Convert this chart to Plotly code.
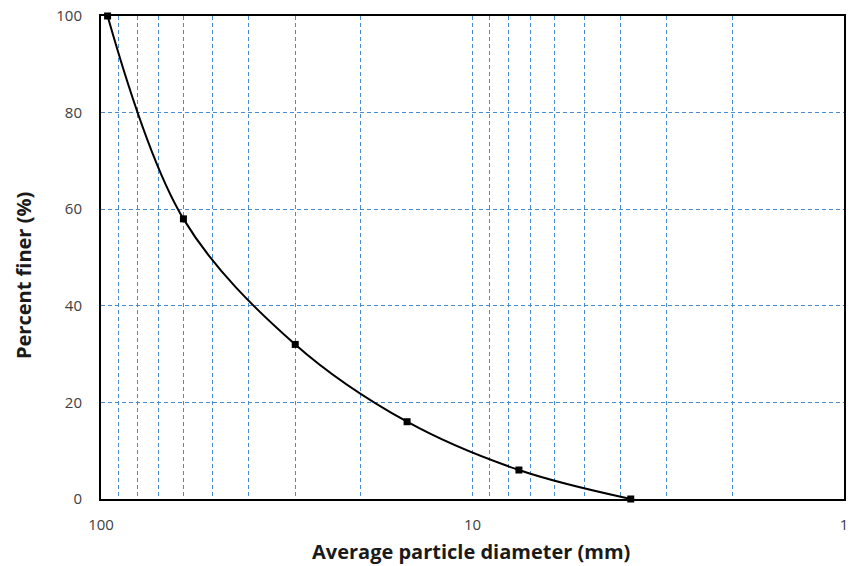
import plotly.graph_objects as go

# Grain size distribution: particle diameter (mm) vs cumulative percent finer
diameter_mm = [96, 60, 30, 15, 7.5, 3.75]
percent_finer = [100, 58, 32, 16, 6, 0]

x_tick_vals = [1, 2, 3, 4, 5, 6, 7, 8, 9, 10, 20, 30, 40, 50, 60, 70, 80, 90, 100]
x_tick_text = ["1", "", "", "", "", "", "", "", "", "10",
               "", "", "", "", "", "", "", "", "100"]
y_tick_vals = [0, 20, 40, 60, 80, 100]

FONT = "Open Sans"
GRID = "#4a8bd0"

fig = go.Figure()
fig.add_trace(go.Scatter(
    x=diameter_mm,
    y=percent_finer,
    mode="lines+markers",
    line=dict(color="black", width=2, shape="spline", smoothing=1.0),
    marker=dict(symbol="square", size=7, color="black"),
    showlegend=False,
    cliponaxis=False,
))

fig.update_layout(
    width=856,
    height=566,
    margin=dict(l=101, r=12, t=16, b=67, autoexpand=False),
    paper_bgcolor="white",
    plot_bgcolor="white",
    font=dict(family=FONT, size=15, color="#404040"),
    xaxis=dict(
        type="log",
        range=[2, 0],
        tickvals=x_tick_vals,
        ticktext=x_tick_text,
        showgrid=True,
        gridcolor=GRID,
        griddash="4px,3px",
        gridwidth=1,
        showline=True,
        linecolor="black",
        linewidth=2,
        mirror=True,
        ticks="",
        ticklabelstandoff=11,
        zeroline=False,
        automargin=False,
    ),
    yaxis=dict(
        range=[0, 100],
        tickvals=y_tick_vals,
        showgrid=True,
        gridcolor=GRID,
        griddash="4px,3px",
        gridwidth=1,
        showline=True,
        linecolor="black",
        linewidth=2,
        mirror=True,
        ticks="",
        ticklabelstandoff=14,
        zeroline=False,
        automargin=False,
    ),
    annotations=[
        dict(
            text="<b>Average particle diameter (mm)</b>",
            xref="paper", yref="paper",
            x=0.498, y=-0.108,
            xanchor="center", yanchor="middle",
            showarrow=False,
            font=dict(family=FONT, size=20, color="#1a1a1a"),
        ),
        dict(
            text="<b>Percent finer (%)</b>",
            xref="paper", yref="paper",
            x=-0.1036, y=0.4617,
            xanchor="center", yanchor="middle",
            textangle=-90,
            showarrow=False,
            font=dict(family=FONT, size=20, color="#1a1a1a"),
        ),
    ],
)

fig.write_html("out.html")
